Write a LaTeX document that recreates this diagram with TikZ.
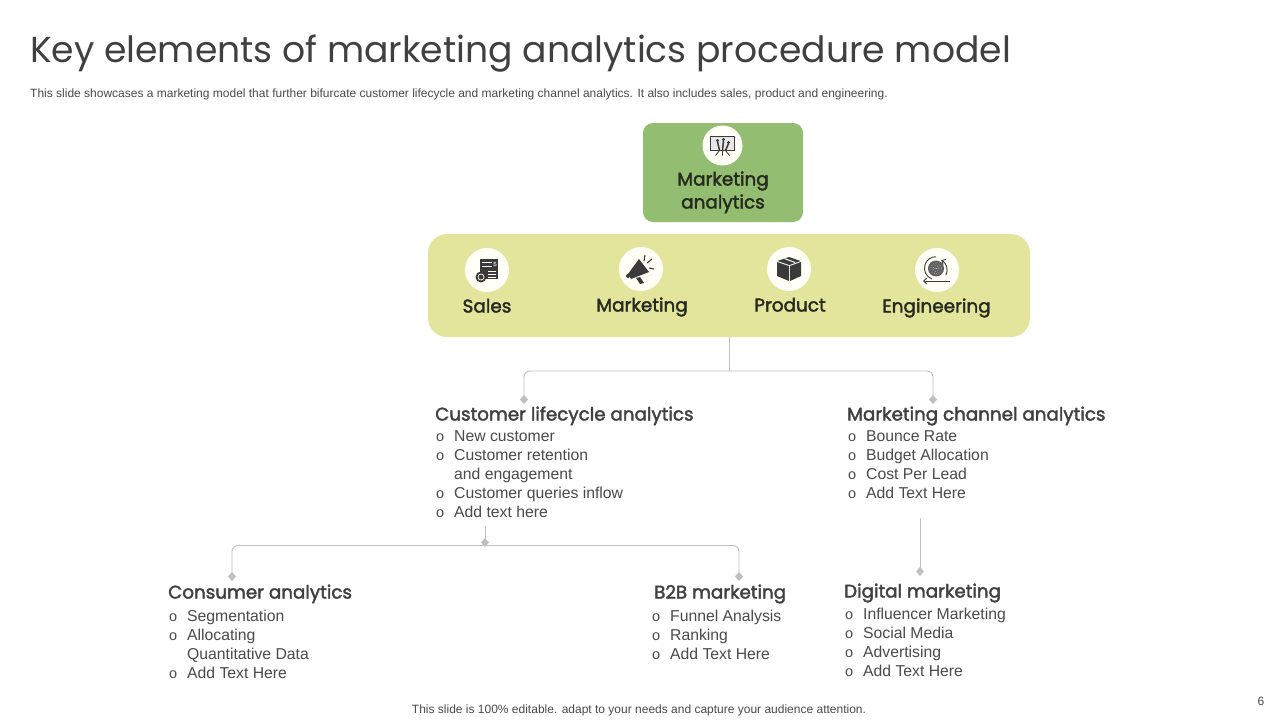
\documentclass[tikz,border=0pt]{standalone}
\usepackage{fontspec}
\setmainfont{Liberation Sans}
\newfontfamily\headf{Poppins}
\newfontfamily\semif[FakeBold=2]{Poppins}
\usetikzlibrary{arrows.meta,shapes.geometric}
\definecolor{greenbox}{HTML}{93BD70}
\definecolor{yellowbox}{HTML}{E4E59C}
\definecolor{conn}{HTML}{BFBFBF}
\definecolor{headtxt}{HTML}{404040}
\definecolor{darktxt}{HTML}{262A1E}
\definecolor{bodytxt}{HTML}{4A4A4A}
\definecolor{icondark}{HTML}{3A3A3A}
\newcommand{\bl}[1]{\makebox[18pt][l]{\fontsize{14.5}{19}\selectfont o}#1}
\newcommand{\cn}[1]{\hspace*{18pt}#1}
\tikzset{
  x=1pt,y=-1pt,
  connector/.style={draw=conn,line width=0.9pt,rounded corners=6pt},
  tipped/.style={connector,-{Diamond[length=9pt,width=8pt,fill=conn]}},
  heading/.style={anchor=base west,inner sep=0pt,text=headtxt,font=\semif\fontsize{18.3}{22}\selectfont},
  inbox/.style={anchor=base,inner sep=0pt,text=darktxt,font=\semif\fontsize{18.4}{23}\selectfont,align=center},
  bullets/.style={anchor=north west,inner sep=0pt,text=bodytxt,align=left,font=\fontsize{15.75}{19}\selectfont},
  disc/.style={circle,fill=white!97!yellow,draw=none,minimum size=44pt,inner sep=0pt},
  ic/.style={fill=icondark,draw=none},
  icl/.style={draw=icondark,line width=0.8pt,fill=none}
}
\begin{document}
\begin{tikzpicture}
\useasboundingbox (0,0) rectangle (1280,720);
\fill[white] (0,0) rectangle (1280,720);
% header
\node[anchor=base west,inner sep=0pt,text=headtxt,font=\headf\fontsize{36.15}{40}\selectfont] (title) at (30,62) {Key elements of marketing analytics procedure model};
\node[anchor=base west,inner sep=0pt,text=bodytxt,font=\fontsize{12}{14}\selectfont] (sub) at (30,97) {This slide showcases a marketing model that further bifurcate customer lifecycle and marketing channel analytics. It also includes sales, product and engineering.};
% boxes
\node[fill=greenbox,rounded corners=10pt,minimum width=160pt,minimum height=99pt,inner sep=0pt] (root) at (723,172.5) {};
\node[fill=yellowbox,rounded corners=19pt,minimum width=602pt,minimum height=103pt,inner sep=0pt] (band) at (729,285.5) {};
\node[inbox] (rootlbl) at (723,208.5) {Marketing\\analytics};
\node[disc,minimum size=40pt] (d0) at (722.5,145.5) {};
\node[disc] (d1) at (487,270) {};
\node[disc] (d2) at (641,269) {};
\node[disc] (d3) at (789,269) {};
\node[disc] (d4) at (937,270) {};
\node[inbox] (l1) at (487,312.5) {Sales};
\node[inbox] (l2) at (642,311.5) {Marketing};
\node[inbox] (l3) at (790,311.5) {Product};
\node[inbox] (l4) at (936.5,312.5) {Engineering};
% icon: presentation board
\begin{scope}[shift={(d0.center)}]
  \draw[icl,line width=1pt,fill=icondark!12] (-12,-9) rectangle (12,5);
  \draw[icl] (-7,10)--(-3,5) (7,10)--(3,5) (0,5)--(0,10);
  \fill[ic] (-5,-5) circle (1.7) (1,-6) circle (1.7) (6,-3) circle (1.7);
  \draw[icl,line width=1.5pt] (-5,-4)--(-3,5) (1,-5)--(0,5) (6,-2)--(3,5);
\end{scope}
% icon: invoice
\begin{scope}[shift={(d1.center)}]
  \fill[ic] (-7,-11) rectangle (11,9);
  \draw[white,line width=0.9pt] (-5,-7.5)--(5,-7.5) (-5,-3.5)--(5,-3.5) (1,1)--(9,1) (1,4)--(9,4) (1,7)--(9,7);
  \node[inner sep=0pt,text=white,font=\fontsize{6}{6}\selectfont] (dollar) at (8,-6) {\$};
  \fill[ic] (-6,7) circle (5.5);
  \draw[white,line width=0.7pt] (-6,7) circle (3);
\end{scope}
% icon: megaphone
\begin{scope}[shift={(d2.center)}]
  \fill[ic] (-13,5)--(-2,-10)--(8,3)--(-10,10)--cycle;
  \fill[ic] (-5,9)--(-1,8)--(3,14)--(-1,15)--cycle;
  \fill[ic] (-13,7) circle (2);
  \draw[icl,line width=1.1pt] (3,-8)--(4,-14) (6,-6)--(11,-10) (8,-1)--(13,0);
\end{scope}
% icon: box
\begin{scope}[shift={(d3.center)}]
  \fill[ic] (-12,-7)--(0,-3)--(0,12)--(-12,7)--cycle;
  \fill[ic] (12,-7)--(1,-3)--(1,12)--(12,7)--cycle;
  \fill[ic] (-11.5,-8)--(0,-12)--(11.5,-8)--(0.5,-4)--cycle;
  \draw[white,line width=1pt] (-4.5,-10.5)--(6,-6.5);
\end{scope}
% icon: gear with arrows
\begin{scope}[shift={(d4.center)}]
  \fill[icondark!80] (-1,-1.5) circle (8);
  \draw[white,line width=0.5pt,dotted] (-1,-1.5) circle (5.5) (-1,-1.5) circle (3) (-1,-1.5) circle (1);
  \draw[icl,line width=0.9pt] (-5,9) arc[start angle=110,end angle=270,radius=11.5];
  \draw[icl,line width=0.9pt,-{Straight Barb[length=3pt]}] (9,5) arc[start angle=25,end angle=-60,radius=11.5];
  \draw[icl,line width=0.9pt,-{Straight Barb[length=3pt]}] (13,11)--(-14,11);
\end{scope}
% connectors
\coordinate (j1) at (729,371);
\coordinate (tipL) at (524,404);
\coordinate (tipR) at (933,404);
\draw[connector] (band.south)--(j1);
\draw[tipped] (j1)-|(tipL);
\draw[tipped] (j1)-|(tipR);
\coordinate (s2) at (485,526);
\coordinate (m2) at (485,547);
\coordinate (j2) at (485,545.5);
\coordinate (tipC) at (232,581);
\coordinate (tipB) at (739,581);
\draw[tipped,rounded corners=0pt] (s2)--(m2);
\draw[tipped] (j2)-|(tipC);
\draw[tipped] (j2)-|(tipB);
\coordinate (s3) at (920,518);
\coordinate (tipD) at (920,576);
\draw[tipped] (s3)--(tipD);
% text groups
\node[heading] (h1) at (435,420.5) {Customer lifecycle analytics};
\node[bullets] (b1) at (436,430.5) {\bl{New customer}\\\bl{Customer retention}\\\cn{and engagement}\\\bl{Customer queries inflow}\\\bl{Add text here}};
\node[heading] (h2) at (847,420.5) {Marketing channel analytics};
\node[bullets] (b2) at (848,430.5) {\bl{Bounce Rate}\\\bl{Budget Allocation}\\\bl{Cost Per Lead}\\\bl{Add Text Here}};
\node[heading] (h3) at (168,598.5) {Consumer analytics};
\node[bullets] (b3) at (169,609.5) {\bl{Segmentation}\\\bl{Allocating}\\\cn{Quantitative  Data}\\\bl{Add Text Here}};
\node[heading] (h4) at (654,598.5) {B2B marketing};
\node[bullets] (b4) at (652,609.5) {\bl{Funnel Analysis}\\\bl{Ranking}\\\bl{Add Text Here}};
\node[heading] (h5) at (844,597.5) {Digital marketing};
\node[bullets] (b5) at (845,607.5) {\bl{Influencer  Marketing}\\\bl{Social Media}\\\bl{Advertising}\\\bl{Add Text Here}};
% footer
\node[anchor=base,inner sep=0pt,text=bodytxt,font=\fontsize{12}{14}\selectfont] (foot) at (639,713) {This slide is 100\% editable. adapt to your needs and capture your audience attention.};
\node[anchor=base,inner sep=0pt,text=bodytxt,font=\fontsize{12}{14}\selectfont] (page) at (1261,705) {6};
\end{tikzpicture}
\end{document}
